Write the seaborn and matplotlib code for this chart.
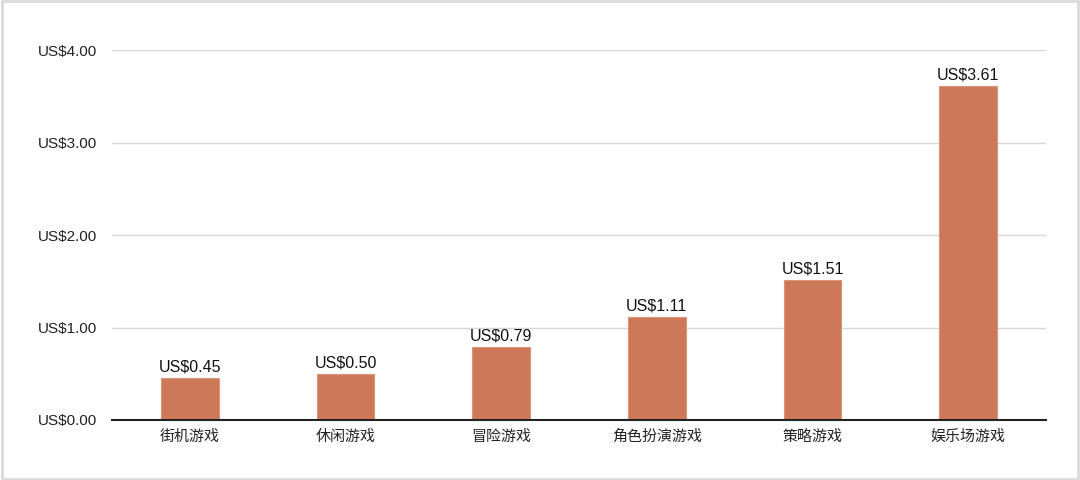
import matplotlib
matplotlib.use("Agg")
import matplotlib.pyplot as plt
import seaborn as sns
import pandas as pd
from matplotlib.patches import Rectangle

# data
genres = ["街机游戏", "休闲游戏", "冒险游戏", "角色扮演游戏", "策略游戏", "娱乐场游戏"]
revenue = [0.45, 0.50, 0.79, 1.11, 1.51, 3.61]
y_ticks = [0, 1, 2, 3, 4]

sns.set_style("white")
plt.rcParams["font.family"] = ["Liberation Sans", "Noto Sans CJK SC", "DejaVu Sans"]

df = pd.DataFrame({"genre": genres, "revenue": revenue})

fig = plt.figure(figsize=(10.8, 4.8), dpi=100)
ax = fig.add_axes([0.1037, 0.125, 0.8648, 0.7708])

sns.barplot(data=df, x="genre", y="revenue", color="#CD7859", saturation=1,
            width=0.37, edgecolor="#DA9479", linewidth=0.8, ax=ax, zorder=3)

ax.set_xlim(-0.5, len(genres) - 0.5)
ax.set_ylim(0, 4)
ax.set_yticks(y_ticks)
ax.set_yticklabels([f"US${v:.2f}" for v in y_ticks])
ax.yaxis.grid(True, color="#D6D6D6", linewidth=1, zorder=0)
ax.set_xlabel("")
ax.set_ylabel("")
ax.tick_params(axis="y", length=0, pad=11, labelsize=11, labelcolor="#222222")
ax.tick_params(axis="x", length=0, pad=7, labelsize=10.8, labelcolor="#222222")
for s in ["top", "right", "left"]:
    ax.spines[s].set_visible(False)
ax.spines["bottom"].set_color("#222222")
ax.spines["bottom"].set_linewidth(1.5)
ax.spines["bottom"].set_zorder(4)

for i, v in enumerate(revenue):
    ax.text(i, v + 0.04, f"US${v:.2f}", ha="center", va="bottom",
            fontsize=11.5, color="#111111", clip_on=False)

# light frame around the picture
fig.patches.append(Rectangle((0.002, 0.003), 0.996, 0.994, transform=fig.transFigure,
                             fill=False, edgecolor="#DADADA", linewidth=2))

fig.savefig("out.png", dpi=100)
